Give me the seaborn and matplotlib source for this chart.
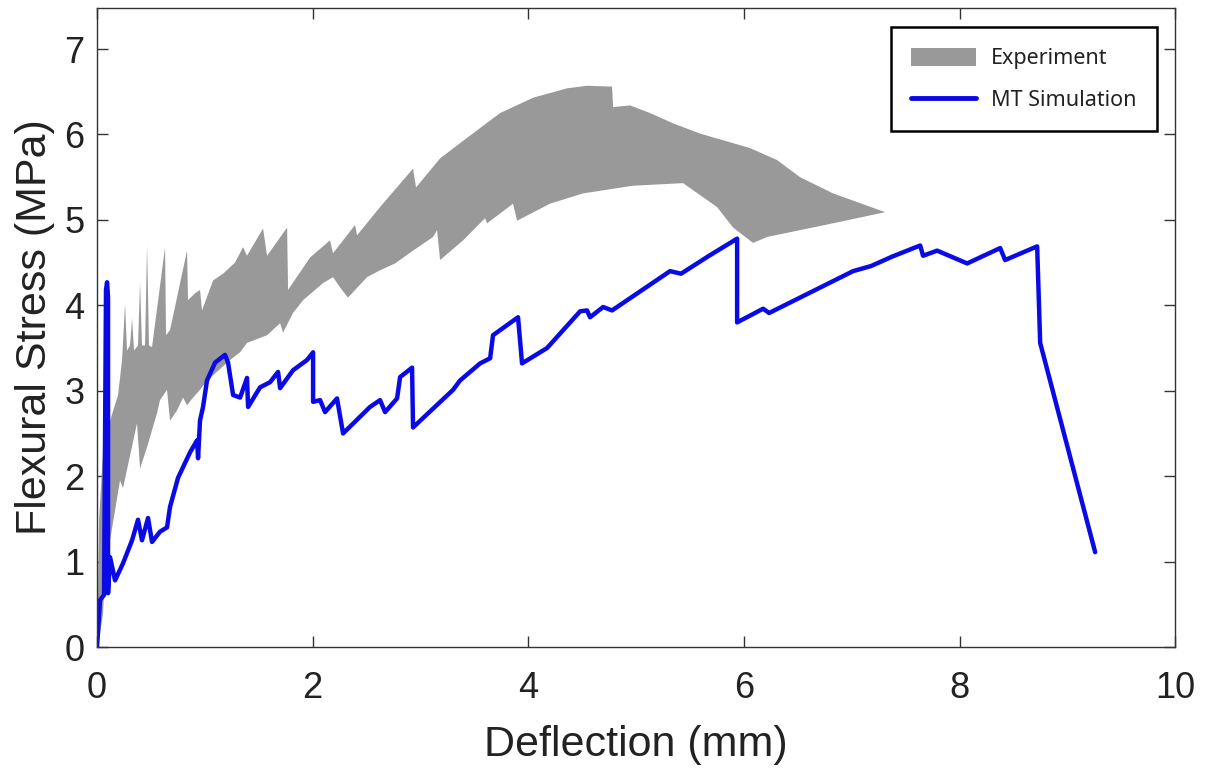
import matplotlib
matplotlib.use("Agg")
import matplotlib.pyplot as plt
import seaborn as sns
from matplotlib.patches import Patch
from matplotlib.lines import Line2D

# MT simulation curve (deflection mm, flexural stress MPa)
sim_x = [0.0, 0.028, 0.065, 0.083, 0.093, 0.102, 0.102, 0.121, 0.167, 0.241,
         0.325, 0.380, 0.417, 0.473, 0.510, 0.584, 0.649, 0.677, 0.751, 0.863,
         0.928, 0.937, 0.955, 0.983, 1.020, 1.095, 1.187, 1.215, 1.262, 1.327,
         1.391, 1.401, 1.512, 1.605, 1.679, 1.698, 1.818, 1.948, 2.004, 2.004,
         2.069, 2.115, 2.226, 2.282, 2.532, 2.625, 2.672, 2.783, 2.811, 2.922,
         2.931, 3.302, 3.367, 3.553, 3.646, 3.673, 3.905, 3.942, 4.174, 4.267,
         4.481, 4.545, 4.573, 4.694, 4.777, 5.315, 5.417, 5.677, 5.937, 5.937,
         6.178, 6.234, 7.013, 7.180, 7.375, 7.635, 7.662, 7.792, 8.071, 8.377,
         8.423, 8.720, 8.748, 9.258]
sim_y = [0.0, 0.55, 0.61, 4.18, 4.27, 4.09, 0.63, 1.05, 0.78, 0.98,
         1.25, 1.49, 1.25, 1.51, 1.23, 1.35, 1.40, 1.64, 1.98, 2.28,
         2.42, 2.21, 2.65, 2.81, 3.12, 3.33, 3.42, 3.33, 2.95, 2.92,
         3.15, 2.81, 3.04, 3.10, 3.22, 3.03, 3.24, 3.36, 3.45, 2.87,
         2.89, 2.75, 2.91, 2.50, 2.81, 2.89, 2.75, 2.91, 3.16, 3.27,
         2.57, 3.01, 3.12, 3.32, 3.38, 3.65, 3.86, 3.32, 3.50, 3.63,
         3.93, 3.94, 3.86, 3.98, 3.94, 4.40, 4.37, 4.58, 4.78, 3.80,
         3.96, 3.91, 4.40, 4.46, 4.57, 4.70, 4.58, 4.64, 4.49, 4.67,
         4.53, 4.69, 3.56, 1.11]

# experiment scatter band: upper and lower envelopes
exp_up_x = [0.0, 0.019, 0.056, 0.121, 0.195, 0.232, 0.260, 0.278, 0.306, 0.325,
            0.343, 0.380, 0.399, 0.417, 0.445, 0.464, 0.482, 0.510, 0.631, 0.640,
            0.677, 0.835, 0.844, 0.909, 0.955, 0.974, 1.076, 1.169, 1.280, 1.354,
            1.391, 1.540, 1.577, 1.763, 1.772, 1.976, 2.161, 2.189, 2.393, 2.412,
            2.625, 2.931, 2.959, 3.182, 3.432, 3.738, 4.045, 4.360, 4.545, 4.777,
            4.787, 4.944, 5.130, 5.343, 5.594, 6.058, 6.308, 6.521, 6.827, 7.310]
exp_up_y = [0.0, 1.49, 2.30, 2.65, 2.95, 3.36, 4.02, 3.47, 3.53, 3.85,
            3.47, 3.53, 4.27, 3.53, 3.53, 4.70, 3.53, 3.51, 4.68, 3.65,
            3.71, 4.64, 4.06, 4.14, 4.18, 3.94, 4.29, 4.37, 4.50, 4.68,
            4.58, 4.90, 4.58, 4.91, 4.18, 4.56, 4.76, 4.61, 4.94, 4.82,
            5.15, 5.60, 5.38, 5.72, 5.96, 6.25, 6.43, 6.54, 6.57, 6.56,
            6.32, 6.34, 6.25, 6.13, 6.01, 5.84, 5.70, 5.50, 5.31, 5.09]
exp_lo_x = [0.0, 0.028, 0.056, 0.093, 0.121, 0.213, 0.241, 0.371, 0.399, 0.464,
            0.557, 0.584, 0.649, 0.677, 0.742, 0.798, 0.835, 0.891, 0.955, 1.020,
            1.076, 1.234, 1.327, 1.391, 1.577, 1.698, 1.725, 1.818, 1.911, 2.096,
            2.189, 2.254, 2.328, 2.505, 2.625, 2.764, 2.931, 3.117, 3.154, 3.182,
            3.395, 3.599, 3.618, 3.859, 3.896, 4.202, 4.508, 4.972, 5.436, 5.751,
            5.900, 6.085, 6.215, 6.827, 7.310]
exp_lo_y = [0.0, 0.16, 0.40, 1.33, 1.25, 1.95, 1.86, 2.62, 2.09, 2.34,
            2.74, 2.89, 3.01, 2.65, 2.77, 2.92, 2.83, 2.92, 3.01, 3.12,
            3.18, 3.36, 3.45, 3.56, 3.65, 3.79, 3.68, 3.91, 4.06, 4.26,
            4.33, 4.21, 4.09, 4.33, 4.41, 4.49, 4.64, 4.80, 4.88, 4.53,
            4.76, 5.02, 4.96, 5.19, 4.99, 5.19, 5.31, 5.40, 5.43, 5.15,
            4.91, 4.73, 4.80, 4.96, 5.09]

x_ticks = [0, 2, 4, 6, 8, 10]
y_ticks = [0, 1, 2, 3, 4, 5, 6, 7]

band_color = "#999999"
sim_color = "#0a0ae6"

sns.set_theme(style="white")
plt.rcParams["font.family"] = ["Liberation Sans", "DejaVu Sans"]

fig = plt.figure(figsize=(12.1, 7.71), dpi=100)
ax = fig.add_axes([0.0802, 0.1608, 0.891, 0.8288])

band_x = exp_up_x + exp_lo_x[::-1]
band_y = exp_up_y + exp_lo_y[::-1]
ax.fill(band_x, band_y, color=band_color, linewidth=0, zorder=1)

sns.lineplot(x=sim_x, y=sim_y, sort=False, estimator=None, color=sim_color,
             linewidth=3.2, ax=ax, zorder=2)

ax.set_xlim(0, 10)
ax.set_ylim(0, 7.48)
ax.set_xticks(x_ticks)
ax.set_yticks(y_ticks)
ax.tick_params(direction="in", length=8, width=1, color="#333333",
               labelsize=26, labelcolor="#222222", top=True, right=True,
               left=True, bottom=True)
ax.tick_params(axis="y", pad=9)
ax.tick_params(axis="x", pad=17)
for sp in ax.spines.values():
    sp.set_color("#333333")
    sp.set_linewidth(1.0)

ax.set_xlabel("Deflection (mm)", fontsize=31, color="#222222", labelpad=14)
ax.set_ylabel("Flexural Stress (MPa)", fontsize=31, color="#222222", labelpad=7)

handles = [Patch(facecolor=band_color, edgecolor="none"),
           Line2D([], [], color=sim_color, linewidth=3.5)]
leg = ax.legend(handles, ["Experiment", "MT Simulation"], loc="upper right",
                bbox_to_anchor=(0.983, 0.970), borderaxespad=0, frameon=True,
                fancybox=False, edgecolor="black", framealpha=1,
                prop={"family": ["Noto Sans", "DejaVu Sans"], "size": 15.5},
                handlelength=3.0, handleheight=0.9, handletextpad=0.7,
                labelspacing=0.95, borderpad=0.95)
leg.get_frame().set_linewidth(1.8)
for t in leg.get_texts():
    t.set_color("#222222")

fig.savefig("out.png", dpi=100)
